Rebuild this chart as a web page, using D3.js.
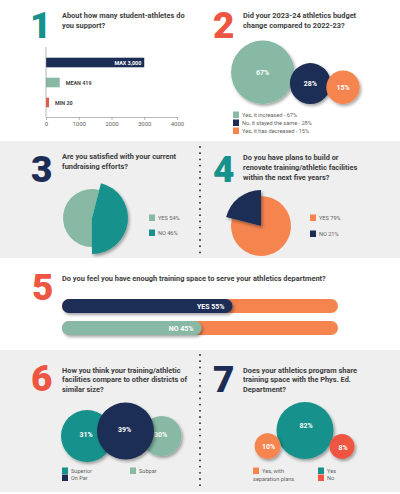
<!DOCTYPE html>
<html>
<head>
<meta charset="utf-8">
<style>
  body { margin: 0; background: #fff; }
  svg { display: block; font-family: Roboto, "Liberation Sans", sans-serif; }
  .q { font-size: 7.4px; font-weight: 700; fill: #3d3d3d; }
  .num { font-size: 37px; font-weight: 900; }
  .leg { font-size: 5.6px; fill: #5f5f5f; }
  .in { font-size: 7px; font-weight: 700; fill: #fff; }
  .axis text { font-size: 6px; fill: #666; font-family: Roboto, sans-serif; }
  .axis path, .axis line { stroke: #888; stroke-width: 0.6; }
</style>
</head>
<body>
<script src="https://d3js.org/d3.v7.min.js"></script>
<script>

var width = 400, height = 494;

var teal = "#17918b", navy = "#1c2d55", green = "#87b9a4", orange = "#f5844f", red = "#ee5643";

// 1 - student athletes
var q1Labels = ["MAX 3,000", "MEAN 419", "MIN 20"];
var q1Values = [3000, 419, 20];
var q1Ticks = [0, 1000, 2000, 3000, 4000];

// 2 - budget change
var q2Labels = ["Yes, it increased - 67%", "No, it stayed the same - 28%", "Yes, it has decreased - 15%"];
var q2Values = [67, 28, 15];

// 3 - fundraising
var q3Labels = ["YES 54%", "NO 46%"];
var q3Values = [54, 46];

// 4 - plans to build
var q4Labels = ["YES 79%", "NO 21%"];
var q4Values = [79, 21];

// 5 - training space
var q5Labels = ["YES 55%", "NO 45%"];
var q5Values = [55, 45];

// 6 - compare facilities
var q6Labels = ["Superior", "Subpar", "On Par"];
var q6Values = [31, 30, 39];

// 7 - share with phys ed
var q7Labels = ["Yes", "Yes, with separation plans", "No"];
var q7Values = [82, 10, 8];

var svg = d3.select("body").append("svg")
    .attr("width", width)
    .attr("height", height);

var defs = svg.append("defs");
defs.append("filter").attr("id", "shadow")
    .attr("x", "-40%").attr("y", "-40%").attr("width", "180%").attr("height", "180%")
  .append("feDropShadow")
    .attr("dx", 1.5).attr("dy", 2).attr("stdDeviation", 1.8)
    .attr("flood-color", "#000").attr("flood-opacity", 0.35);

// backgrounds
svg.append("rect").attr("x", 0).attr("y", 141).attr("width", width).attr("height", 117).attr("fill", "#efefef");
svg.append("rect").attr("x", 0).attr("y", 350).attr("width", width).attr("height", 142).attr("fill", "#efefef");

// dotted dividers
function dots(y0, y1) {
  svg.append("g").selectAll("circle")
    .data(d3.range(y0, y1, 6.2))
    .enter().append("circle")
    .attr("cx", 200).attr("cy", function(d) { return d; })
    .attr("r", 0.9).attr("fill", "#222");
}
dots(147, 256);
dots(355, 490);

function bigNum(t, x, y, c) {
  svg.append("text").attr("class", "num").attr("x", x).attr("y", y).attr("fill", c).text(t);
}
function question(lines, x, y, lh) {
  var t = svg.append("text").attr("class", "q");
  lines.forEach(function(l, i) {
    t.append("tspan").attr("x", x).attr("y", y + i * lh).text(l);
  });
}
function legendItem(x, y, c, lines) {
  svg.append("rect").attr("x", x).attr("y", y).attr("width", 6).attr("height", 6.5).attr("fill", c);
  var t = svg.append("text").attr("class", "leg");
  lines.forEach(function(l, i) {
    t.append("tspan").attr("x", i == 0 ? x + 9 : x).attr("y", y + 5.5 + i * 8).text(l);
  });
}

// ---------- 1 ----------
bigNum("1", 30, 38, teal);
question(["About how many student-athletes do", "you support?"], 62, 17.5, 10);

var x1 = d3.scaleLinear().domain([0, 4000]).range([46, 177]);
var y1 = d3.scaleBand().domain(q1Labels).range([52.5, 112.5]).paddingInner(0.52).paddingOuter(0.26);
var c1 = [navy, green, red];

svg.append("g").selectAll("rect")
  .data(q1Values)
  .enter().append("rect")
  .attr("x", x1(0))
  .attr("y", function(d, i) { return y1(q1Labels[i]); })
  .attr("width", function(d) { return Math.max(x1(d) - x1(0), 3); })
  .attr("height", y1.bandwidth())
  .attr("fill", function(d, i) { return c1[i]; });

svg.append("g").selectAll("text")
  .data(q1Values)
  .enter().append("text")
  .attr("x", function(d) { return d > 2000 ? x1(d) - 3 : Math.max(x1(d), x1(0) + 3) + 6; })
  .attr("y", function(d, i) { return y1(q1Labels[i]) + y1.bandwidth() / 2 + 2; })
  .attr("text-anchor", function(d) { return d > 2000 ? "end" : "start"; })
  .attr("font-size", "5.4px").attr("font-weight", 700)
  .attr("fill", function(d) { return d > 2000 ? "#fff" : "#444"; })
  .text(function(d, i) { return q1Labels[i]; });

svg.append("g").attr("class", "axis")
  .attr("transform", "translate(0,117)")
  .call(d3.axisBottom(x1).tickValues(q1Ticks).tickSize(3).tickSizeOuter(0).tickPadding(2).tickFormat(d3.format("d")));
svg.append("line").attr("x1", x1(0)).attr("x2", x1(0)).attr("y1", 47).attr("y2", 117)
  .attr("stroke", "#888").attr("stroke-width", 0.6);

// ---------- 2 ----------
bigNum("2", 213, 38, red);
question(["Did your 2023-24 athletics budget", "change compared to 2022-23?"], 243, 17.5, 10);

var r2 = d3.scaleLinear().domain([15, 67]).range([16.7, 31.7]);
var c2 = [green, navy, orange];
var cx2 = [];
q2Values.forEach(function(d, i) {
  cx2.push(i == 0 ? 231 + r2(d) : cx2[i - 1] + r2(q2Values[i - 1]) + r2(d) - 4.5);
});
var g2 = svg.append("g").selectAll("g")
  .data(q2Values)
  .enter().append("g");
g2.append("circle")
  .attr("cx", function(d, i) { return cx2[i]; })
  .attr("cy", function(d) { return 104 - r2(d); })
  .attr("r", function(d) { return r2(d); })
  .attr("fill", function(d, i) { return c2[i]; })
  .attr("filter", "url(#shadow)");
g2.append("text").attr("class", "in")
  .attr("x", function(d, i) { return cx2[i]; })
  .attr("y", function(d) { return 104 - r2(d) + 2.5; })
  .attr("text-anchor", "middle")
  .text(function(d) { return d + "%"; });

q2Labels.forEach(function(l, i) {
  legendItem(233, 111.5 + i * 8, c2[i], [l]);
});

// ---------- 3 ----------
bigNum("3", 31, 182, navy);
question(["Are you satisfied with your current", "fundraising efforts?"], 62, 159, 10);

var pie3 = d3.pie().sort(null).startAngle(Math.PI).endAngle(3 * Math.PI);
var arcs3 = pie3(q3Values);
var g3 = svg.append("g").attr("transform", "translate(92,218)");
g3.append("path").attr("d", d3.arc().innerRadius(0).outerRadius(29)(arcs3[0])).attr("fill", green);
g3.append("path").attr("d", d3.arc().innerRadius(0).outerRadius(36)(arcs3[1])).attr("fill", teal)
  .attr("filter", "url(#shadow)");
legendItem(149, 214.5, green, [q3Labels[0]]);
legendItem(149, 229.5, teal, [q3Labels[1]]);

// ---------- 4 ----------
bigNum("4", 213, 182, teal);
question(["Do you have plans to build or", "renovate training/athletic facilities", "within the next five years?"], 243, 160, 10);

var pie4 = d3.pie().sort(null);
var arcs4 = pie4(q4Values);
var g4 = svg.append("g").attr("transform", "translate(261,226)");
g4.append("path").attr("d", d3.arc().innerRadius(0).outerRadius(30)(arcs4[0])).attr("fill", orange);
g4.append("path").attr("d", d3.arc().innerRadius(0).outerRadius(36)(arcs4[1])).attr("fill", navy)
  .attr("filter", "url(#shadow)");
legendItem(310, 214.5, orange, [q4Labels[0]]);
legendItem(310, 230.5, navy, [q4Labels[1]]);

// ---------- 5 ----------
bigNum("5", 32, 300, red);
question(["Do you feel you have enough training space to serve your athletics department?"], 62, 280.5, 10);

var x5 = d3.scaleLinear().domain([0, 100]).range([0, 310]);
var c5 = [navy, green];
q5Values.forEach(function(d, i) {
  var y = 299 + i * 22;
  svg.append("rect").attr("x", 62).attr("y", y).attr("width", 276).attr("height", 14)
    .attr("rx", 7).attr("fill", orange);
  svg.append("rect").attr("x", 62).attr("y", y).attr("width", x5(d)).attr("height", 14)
    .attr("rx", 7).attr("fill", c5[i]).attr("filter", "url(#shadow)");
  svg.append("text").attr("class", "in").attr("font-size", "7.2px")
    .attr("x", 62 + x5(d) - 8).attr("y", y + 9.8)
    .attr("text-anchor", "end").text(q5Labels[i]);
});

// ---------- 6 ----------
bigNum("6", 31, 391, red);
question(["How you think your training/athletic", "facilities compare to other districts of", "similar size?"], 62, 372.5, 9.5);

var r6 = d3.scaleLinear().domain([30, 31, 39]).range([20, 26, 28.5]);
var c6 = [teal, green, navy];
var cx6 = [61 + r6(31), 0, 0];
cx6[2] = cx6[0] + r6(31) + r6(39) - 16;
cx6[1] = cx6[2] + r6(39) + r6(30) - 12.5;
var g6 = svg.append("g").selectAll("g")
  .data(q6Values)
  .enter().append("g");
g6.append("circle")
  .attr("cx", function(d, i) { return cx6[i]; })
  .attr("cy", function(d, i) { return i == 2 ? 431 : 436; })
  .attr("r", function(d) { return r6(d); })
  .attr("fill", function(d, i) { return c6[i]; })
  .attr("filter", "url(#shadow)");
g6.append("text").attr("class", "in")
  .attr("x", function(d, i) { return cx6[i] - 1; })
  .attr("y", function(d, i) { return (i == 2 ? 431 : 436) + 1; })
  .attr("text-anchor", "middle")
  .text(function(d) { return d + "%"; });

legendItem(62, 467.5, teal, [q6Labels[0]]);
legendItem(62, 474.5, navy, [q6Labels[2]]);
legendItem(130, 467.5, green, [q6Labels[1]]);

// ---------- 7 ----------
bigNum("7", 213, 392, navy);
question(["Does your athletics program share", "training space with the Phys. Ed.", "Department?"], 243, 372.5, 9.5);

var r7 = d3.scaleLinear().domain([8, 82]).range([12.5, 28.5]);
var c7 = [teal, orange, red];
var cx7 = [305, 0, 0];
cx7[1] = cx7[0] - r7(82) - r7(10) + 4;
cx7[2] = cx7[0] + r7(82) + r7(8) - 4;
var g7 = svg.append("g").selectAll("g")
  .data(q7Values)
  .enter().append("g");
g7.append("circle")
  .attr("cx", function(d, i) { return cx7[i]; })
  .attr("cy", function(d) { return 459 - r7(d); })
  .attr("r", function(d) { return r7(d); })
  .attr("fill", function(d, i) { return c7[i]; })
  .attr("filter", "url(#shadow)");
g7.append("text").attr("class", "in")
  .attr("x", function(d, i) { return cx7[i] + 1; })
  .attr("y", function(d, i) { return 459 - r7(d) + (i == 0 ? -3 : 3); })
  .attr("text-anchor", "middle")
  .text(function(d) { return d + "%"; });

legendItem(253, 467.5, orange, ["Yes, with", "separation plans"]);
legendItem(318, 467.5, teal, [q7Labels[0]]);
legendItem(318, 474.5, red, [q7Labels[2]]);

</script>
</body>
</html>
